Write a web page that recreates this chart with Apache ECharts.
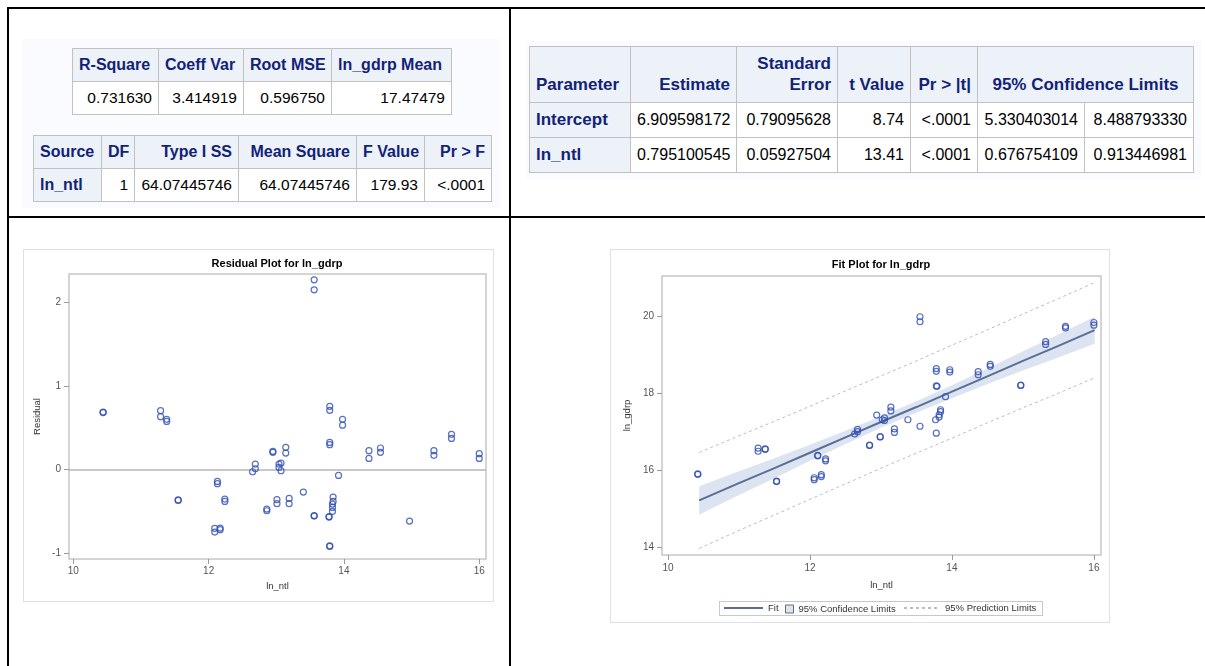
<!DOCTYPE html>
<html>
<head>
<meta charset="utf-8">
<script src="https://cdn.jsdelivr.net/npm/echarts@6/dist/echarts.min.js"></script>
<style>
    body { margin: 0; width: 1205px; height: 666px; background: #fff; position: relative; overflow: hidden;
           font-family: "Liberation Sans", Arial, sans-serif; }
    .rule { position: absolute; background: #000; }
    .panel { position: absolute; background: #fafbfe; }
    .plotbox { position: absolute; border: 1.5px solid #e0e0e0; box-sizing: border-box; background: #fff; }
    .legendbox { position: absolute; border: 1px solid #c8c8c8; box-sizing: border-box; background: #fff; }
    table.sas { position: absolute; border-collapse: collapse; table-layout: fixed; }
    table.sas th, table.sas td { border: 1px solid #c1c1c1; padding: 0 6px; white-space: nowrap; overflow: hidden; }
    table.sas th { background: #edf2f9; color: #112277; font-weight: bold; text-align: right; vertical-align: bottom; padding-bottom: 7px; }
    table.sas td { background: #fff; color: #000; text-align: right; }
    table.sas td.rowhead { background: #edf2f9; color: #112277; font-weight: bold; text-align: left; }
    #chart { position: absolute; left: 0; top: 0; width: 1205px; height: 666px; }
</style>
</head>
<body>
<div class="rule" style="left:7px;top:7px;width:1198px;height:2px;"></div>
<div class="rule" style="left:7px;top:7px;width:2px;height:659px;"></div>
<div class="rule" style="left:509px;top:7px;width:2px;height:659px;"></div>
<div class="rule" style="left:7px;top:216px;width:1198px;height:2px;"></div>

<div class="panel" style="left:22px;top:39px;width:478px;height:169px;"></div>
<div class="panel" style="left:526px;top:41px;width:675px;height:138px;"></div>

<div class="plotbox" style="left:23px;top:249px;width:471px;height:353px;"></div>
<div class="plotbox" style="left:610px;top:249px;width:500px;height:374px;"></div>
<div class="legendbox" style="left:719px;top:601px;width:324px;height:15px;"></div>

<div id="tables"></div>
<div id="chart"></div>

<script>
// ---------- 表格數據 ----------
const fitStatHeads = ['R-Square', 'Coeff Var', 'Root MSE', 'ln_gdrp Mean'];
const fitStatVals = ['0.731630', '3.414919', '0.596750', '17.47479'];

const anovaHeads = ['Source', 'DF', 'Type I SS', 'Mean Square', 'F Value', 'Pr > F'];
const anovaRow = ['ln_ntl', '1', '64.07445746', '64.07445746', '179.93', '<.0001'];

const paramHeads = ['Parameter', 'Estimate', 'Standard Error', 't Value', 'Pr > |t|', '95% Confidence Limits'];
const paramRows = [
    ['Intercept', '6.909598172', '0.79095628', '8.74', '<.0001', '5.330403014', '8.488793330'],
    ['ln_ntl', '0.795100545', '0.05927504', '13.41', '<.0001', '0.676754109', '0.913446981']
];

// ---------- 殘差圖 ----------
const resX = [10.44, 10.44, 11.29, 11.29, 11.38, 11.38, 13.56, 13.56, 13.79, 13.79, 13.98, 13.98,
    15.59, 15.59, 13.79, 13.79, 14.37, 14.37, 14.54, 14.54, 15.33, 15.33, 16.0, 16.0,
    12.95, 12.95, 13.14, 13.14, 12.69, 12.69, 12.65, 13.04, 13.04, 13.07, 13.07, 13.92,
    12.13, 12.13, 11.55, 11.55, 12.24, 12.24, 13.01, 13.01, 13.19, 13.19, 13.40,
    12.86, 12.86, 13.56, 13.56, 13.78, 13.78, 13.84, 13.84, 13.83, 13.83, 13.83,
    14.97, 12.09, 12.09, 12.17, 12.17, 13.79, 13.79];
const resY = [0.687, 0.680, 0.703, 0.631, 0.600, 0.575, 2.270, 2.150, 0.755, 0.707, 0.600, 0.530,
    0.420, 0.371, 0.323, 0.296, 0.224, 0.132, 0.256, 0.204, 0.224, 0.168, 0.188, 0.132,
    0.216, 0.204, 0.264, 0.196, 0.064, 0.008, -0.028, 0.064, 0.024, 0.076, -0.016, -0.072,
    -0.144, -0.171, -0.371, -0.365, -0.355, -0.383, -0.363, -0.411, -0.347, -0.411, -0.271,
    -0.475, -0.495, -0.559, -0.553, -0.571, -0.565, -0.331, -0.383, -0.415, -0.455, -0.503,
    -0.619, -0.706, -0.750, -0.703, -0.722, -0.922, -0.915];
const xTicks = [10, 12, 14, 16];
const resTicks = [-1, 0, 1, 2];

// ---------- 擬合圖 ----------
const obsX = [13.55, 13.55, 13.78, 13.78, 13.97, 13.97, 13.78, 13.79, 13.91, 14.37, 14.37,
    14.54, 14.54, 15.32, 15.32, 15.60, 15.60, 16.00, 16.00, 14.97, 14.97, 13.14, 13.14,
    12.94, 13.02, 13.05, 13.05, 13.38, 13.84, 13.84, 13.82, 13.82, 13.77, 13.55, 13.19, 13.19,
    13.78, 12.67, 12.67, 12.63, 12.99, 12.99, 12.84, 12.84, 11.27, 11.27, 11.37, 11.37,
    10.42, 10.42, 11.53, 11.53, 12.11, 12.11, 12.22, 12.22, 12.06, 12.06, 12.16, 12.16];
const obsY = [19.99, 19.86, 18.64, 18.57, 18.61, 18.55, 18.19, 18.18, 17.91, 18.56, 18.48,
    18.75, 18.70, 19.34, 19.27, 19.74, 19.70, 19.84, 19.77, 18.21, 18.20, 17.64, 17.54,
    17.43, 17.31, 17.36, 17.29, 17.31, 17.57, 17.52, 17.44, 17.38, 17.31, 17.14, 17.07, 16.98,
    16.96, 17.06, 17.00, 16.94, 16.86, 16.87, 16.64, 16.65, 16.57, 16.49, 16.55, 16.54,
    15.89, 15.90, 15.70, 15.71, 16.38, 16.37, 16.29, 16.24, 15.80, 15.75, 15.88, 15.83];

const bandX = [10.44, 11, 11.5, 12, 12.5, 13, 13.5, 14, 14.5, 15, 15.5, 16.01];
const fitLine = [15.21, 15.66, 16.05, 16.45, 16.85, 17.25, 17.64, 18.04, 18.44, 18.84, 19.23, 19.64];
const confLower = [14.84, 15.35, 15.79, 16.24, 16.68, 17.10, 17.49, 17.87, 18.24, 18.59, 18.93, 19.29];
const confUpper = [15.58, 15.97, 16.31, 16.66, 17.02, 17.40, 17.79, 18.21, 18.64, 19.09, 19.53, 19.99];
const predLower = [13.96, 14.43, 14.83, 15.24, 15.64, 16.05, 16.44, 16.83, 17.23, 17.62, 18.00, 18.40];
const predUpper = [16.46, 16.89, 17.27, 17.66, 18.06, 18.45, 18.84, 19.25, 19.65, 20.06, 20.46, 20.88];
const gdrpTicks = [14, 16, 18, 20];

// ---------- 建表 ----------
function makeTable(left, top, widths) {
    const t = document.createElement('table');
    t.className = 'sas';
    t.style.left = left + 'px';
    t.style.top = top + 'px';
    const cg = document.createElement('colgroup');
    widths.forEach(w => {
        const c = document.createElement('col');
        c.style.width = w + 'px';
        cg.appendChild(c);
    });
    t.appendChild(cg);
    t.style.width = widths.reduce((a, b) => a + b, 0) + 'px';
    document.getElementById('tables').appendChild(t);
    return t;
}

function addRow(t, cells, h) {
    const tr = document.createElement('tr');
    tr.style.height = h + 'px';
    cells.forEach(c => {
        const el = document.createElement(c.th ? 'th' : 'td');
        el.textContent = c.text;
        if (c.cls) el.className = c.cls;
        if (c.span) el.colSpan = c.span;
        if (c.align) el.style.textAlign = c.align;
        if (c.size) el.style.fontSize = c.size + 'px';
        tr.appendChild(el);
    });
    t.appendChild(tr);
}

// 擬合統計
const t1 = makeTable(72, 48, [86, 85, 88, 120]);
addRow(t1, fitStatHeads.map(h => ({ text: h, th: true, size: 16, align: 'left' })), 33);
addRow(t1, fitStatVals.map(v => ({ text: v, size: 15.5 })), 33);

// 方差分析
const t2 = makeTable(33, 135, [68, 33, 104, 118, 68, 67]);
addRow(t2, anovaHeads.map((h, i) => ({ text: h, th: true, size: 16, align: i === 0 ? 'left' : 'right' })), 33);
addRow(t2, anovaRow.map((v, i) => i === 0 ? { text: v, cls: 'rowhead', size: 16 } : { text: v, size: 15.5 }), 33);

// 參數估計
const t3 = makeTable(529, 46, [101, 106, 101, 73, 67, 107, 109]);
const hdr = paramHeads.map((h, i) => {
    const c = { text: h, th: true, size: 17 };
    if (i === 0) c.align = 'left';
    if (i === 5) { c.span = 2; c.align = 'center'; }
    return c;
});
addRow(t3, hdr, 56);
paramRows.forEach(r => addRow(t3, r.map((v, i) => i === 0 ? { text: v, cls: 'rowhead', size: 17 } : { text: v, size: 16 }), 35));
// "Standard Error" 兩行
t3.rows[0].cells[2].innerHTML = 'Standard<br>Error';
t3.rows[0].cells[2].style.lineHeight = '21px';

// ---------- 圖表 ----------
const FONT = '"Liberation Sans", Arial, sans-serif';
const tickLabel = { fontSize: 10, color: '#555', fontFamily: FONT };
const nameStyle = { fontSize: 9.5, color: '#333', fontFamily: FONT };
const frame = { show: true, borderColor: '#c6c6c6', borderWidth: 1.5, backgroundColor: 'transparent' };
const markerStyle = { color: 'rgba(0,0,0,0)', borderColor: '#2d4cb0', borderWidth: 1.2 };
const hideSymbol = { opacity: 0, color: 'rgba(0,0,0,0)', borderWidth: 0 };

function valueAxis(gridIndex, min, max, ticks, name, gap, margin) {
    return {
        type: 'value', gridIndex, min, max, name,
        nameLocation: 'middle', nameGap: gap, nameTextStyle: nameStyle,
        splitLine: { show: false },
        axisLine: { show: false, onZero: false },
        axisTick: { show: true, length: 5, customValues: ticks, lineStyle: { color: '#999', width: 1 } },
        axisLabel: { customValues: ticks, margin, ...tickLabel }
    };
}

const chart = echarts.init(document.getElementById('chart'));
chart.setOption({
    animation: false,
    backgroundColor: 'transparent',
    textStyle: { fontFamily: FONT },
    graphic: [
        { type: 'text', x: 277, y: 264, style: { text: 'Residual Plot for ln_gdrp', font: 'bold 11px ' + FONT, fill: '#000', textAlign: 'center', textVerticalAlign: 'middle', align: 'center', verticalAlign: 'middle' } },
        { type: 'text', x: 881, y: 265, style: { text: 'Fit Plot for ln_gdrp', font: 'bold 11px ' + FONT, fill: '#000', textAlign: 'center', textVerticalAlign: 'middle', align: 'center', verticalAlign: 'middle' } }
    ],
    grid: [
        { left: 69, top: 274, width: 417, height: 285, outerBoundsMode: 'none', ...frame },
        { left: 662, top: 276, width: 439, height: 279, outerBoundsMode: 'none', ...frame }
    ],
    xAxis: [
        valueAxis(0, 9.936, 16.1, xTicks, 'ln_ntl', 22, 7),
        valueAxis(1, 9.916, 16.1, xTicks, 'ln_ntl', 25, 8)
    ],
    yAxis: [
        valueAxis(0, -1.073, 2.34, resTicks, 'Residual', 27, 8),
        valueAxis(1, 13.79, 21.05, gdrpTicks, 'ln_gdrp', 30, 8)
    ],
    legend: [
        { data: [{ name: 'Fit', itemStyle: hideSymbol }], left: 723, top: 603, itemWidth: 39, itemHeight: 10, padding: 0, selectedMode: false, textStyle: nameStyle },
        { data: [{ name: '95% Confidence Limits', icon: 'rect', itemStyle: { color: '#dce4f2', borderColor: '#6e6e6e', borderWidth: 1 } }],
          left: 785, top: 604, itemWidth: 8, itemHeight: 8, padding: 0, selectedMode: false, textStyle: nameStyle },
        { data: [{ name: '95% Prediction Limits', itemStyle: hideSymbol }], left: 903, top: 603, itemWidth: 36, itemHeight: 10, padding: 0, selectedMode: false, textStyle: nameStyle }
    ],
    series: [
        {
            type: 'scatter', xAxisIndex: 0, yAxisIndex: 0,
            data: resX.map((x, i) => [x, resY[i]]),
            symbol: 'circle', symbolSize: 6, itemStyle: markerStyle,
            markLine: {
                silent: true, symbol: 'none', label: { show: false },
                lineStyle: { color: '#b4b4b4', width: 1.5, type: 'solid' },
                data: [{ yAxis: 0 }]
            },
            z: 5
        },
        {
            name: '95% Confidence Limits', type: 'custom', xAxisIndex: 1, yAxisIndex: 1,
            data: [[bandX[0], confLower[0]]],
            itemStyle: { color: '#dce4f2' },
            renderItem: (params, api) => {
                const up = bandX.map((x, i) => api.coord([x, confUpper[i]]));
                const lo = bandX.map((x, i) => api.coord([x, confLower[i]])).reverse();
                return { type: 'polygon', shape: { points: up.concat(lo) }, style: { fill: '#dce4f2' } };
            },
            silent: true, z: 1
        },
        {
            name: '95% Prediction Limits', type: 'line', xAxisIndex: 1, yAxisIndex: 1,
            data: bandX.map((x, i) => [x, predUpper[i]]), symbol: 'none',
            lineStyle: { color: '#b3b9e6', width: 1, type: [3, 3] }, itemStyle: { color: '#b3b9e6' }, z: 2
        },
        {
            name: '95% Prediction Limits', type: 'line', xAxisIndex: 1, yAxisIndex: 1,
            data: bandX.map((x, i) => [x, predLower[i]]), symbol: 'none',
            lineStyle: { color: '#b3b9e6', width: 1, type: [3, 3] }, itemStyle: { color: '#b3b9e6' }, z: 2
        },
        {
            name: 'Fit', type: 'line', xAxisIndex: 1, yAxisIndex: 1,
            data: bandX.map((x, i) => [x, fitLine[i]]), symbol: 'none',
            lineStyle: { color: '#5a6d96', width: 2 }, itemStyle: { color: '#5a6d96' }, z: 3
        },
        {
            type: 'scatter', xAxisIndex: 1, yAxisIndex: 1,
            data: obsX.map((x, i) => [x, obsY[i]]),
            symbol: 'circle', symbolSize: 6, itemStyle: markerStyle, z: 5
        }
    ]
});
</script>
</body>
</html>
